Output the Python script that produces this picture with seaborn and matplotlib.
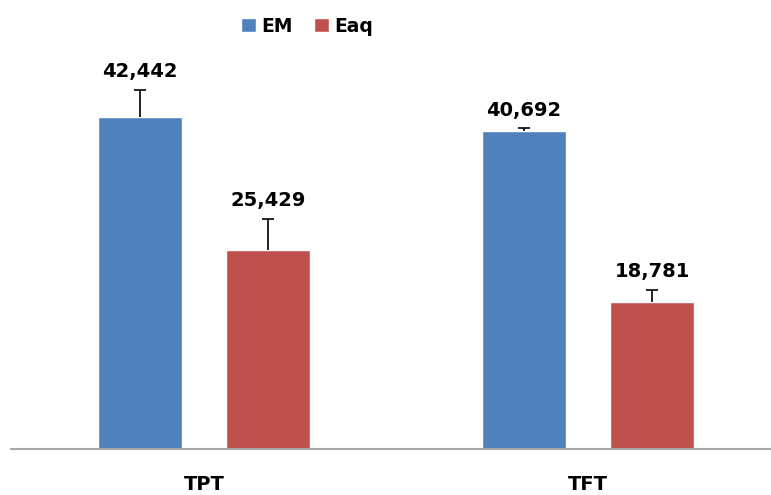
import numpy as np
import pandas as pd
import matplotlib
matplotlib.use("Agg")
import matplotlib.pyplot as plt
import seaborn as sns

# data
groups = ["TPT", "TFT"]
series = ["EM", "Eaq"]
em_values = [42.442, 40.692]
eaq_values = [25.429, 18.781]
em_err = [3.5, 0.3]
eaq_err = [4.0, 1.6]

colors = {"EM": "#4F81BD", "Eaq": "#C0504D"}

df = pd.DataFrame({
    "group": groups * 2,
    "series": ["EM"] * 2 + ["Eaq"] * 2,
    "value": em_values + eaq_values,
})
errs = {"EM": em_err, "Eaq": eaq_err}
vals = {"EM": em_values, "Eaq": eaq_values}

sns.set_style("white")
plt.rcParams["font.family"] = ["DejaVu Sans"]

fig = plt.figure(figsize=(7.71, 4.95), dpi=100)
ax = fig.add_axes([11 / 771, 46 / 495, 769 / 771, 391 / 495])

sns.barplot(data=df, x="group", y="value", hue="series", order=groups,
            hue_order=series, palette=colors, width=0.667, gap=0.34,
            errorbar=None, saturation=1, ax=ax)

# error bars (upper only) and value labels
for cont, name in zip(ax.containers, series):
    for bar, v, e in zip(cont, vals[name], errs[name]):
        xc = bar.get_x() + bar.get_width() / 2
        eb = ax.errorbar(xc, v, yerr=[[0], [e]], fmt="none", ecolor="black",
                         elinewidth=1.2, capsize=4.3, capthick=1.2)
        eb[1][0].set_visible(False)  # no cap at the bar top
        ax.annotate(f"{v:.3f}".replace(".", ","), (xc, v + e),
                    xytext=(0, 9), textcoords="offset points",
                    ha="center", va="baseline", fontsize=14,
                    fontweight="bold", color="black")

ax.set_xlim(-0.503, 1.5)
ax.set_ylim(0, 50)
ax.set_xlabel("")
ax.set_ylabel("")
ax.set_yticks([])
for s in ["left", "right", "top"]:
    ax.spines[s].set_visible(False)
ax.spines["bottom"].set_color("#A6A6A6")
ax.spines["bottom"].set_linewidth(1.5)
ax.tick_params(axis="x", length=0, pad=19, labelcolor="black")
for lbl in ax.get_xticklabels():
    lbl.set_fontsize(14)
    lbl.set_fontweight("bold")

leg = ax.get_legend()
handles = leg.legend_handles
labels = [t.get_text() for t in leg.get_texts()]
leg.remove()
fig.legend(handles, labels, loc="center", bbox_to_anchor=(307 / 771, 1 - 26 / 495),
           ncol=2, frameon=False, prop={"size": 13.5, "weight": "bold"},
           labelcolor="black", handlelength=0.8, handleheight=0.8,
           handletextpad=0.3, columnspacing=1.1)

fig.savefig("out.png", dpi=100)
